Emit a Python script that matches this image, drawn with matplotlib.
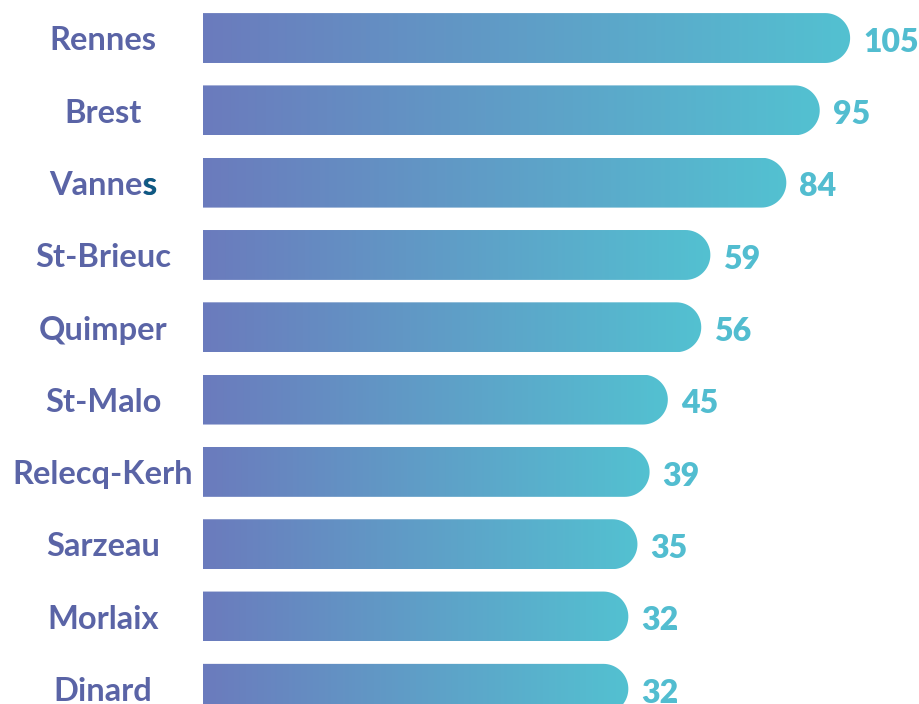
import numpy as np
import matplotlib
matplotlib.use("Agg")
import matplotlib.pyplot as plt
from matplotlib.colors import LinearSegmentedColormap
from matplotlib.path import Path
from matplotlib.patches import PathPatch

cities = ["Rennes", "Brest", "Vannes", "St-Brieuc", "Quimper",
          "St-Malo", "Relecq-Kerh", "Sarzeau", "Morlaix", "Dinard"]
values = [105, 95, 84, 59, 56, 45, 39, 35, 32, 32]

label_col = "#5a64a6"
value_col = "#52bdd0"
grad = LinearSegmentedColormap.from_list("bar", ["#6b7bbd", "#53c1d1"])

plt.rcParams['font.family'] = ['Lato', 'DejaVu Sans']

fig = plt.figure(figsize=(9.2, 7.04), dpi=100)
ax = fig.add_axes([203 / 920, 0, 1 - 203 / 920, 1])

base = -108      # bars start here (the chart uses an offset baseline)
xmax = 128
h = 0.69
ax.set_xlim(base, xmax)
ax.set_ylim(9.21, -0.526)
ax.axis("off")

# px per data unit, to get a round right end
px_x = (920 - 203) / (xmax - base)
px_y = 704 / (9.21 + 0.526)
r_y = h / 2
r_x = r_y * px_y / px_x

t = np.linspace(-np.pi / 2, np.pi / 2, 40)
for i, v in enumerate(values):
    x0 = base - 5
    xe = v - r_x
    arc_x = xe + r_x * np.cos(t)
    verts = [(x0, i - r_y)] + list(zip(arc_x, i + r_y * np.sin(t))) + [(x0, i + r_y), (x0, i - r_y)]
    patch = PathPatch(Path(verts, closed=True), facecolor="none", edgecolor="none")
    ax.add_patch(patch)
    im = ax.imshow(np.linspace(0, 1, 256).reshape(1, -1), cmap=grad,
                   extent=(base, v, i + r_y, i - r_y), aspect="auto",
                   interpolation="bilinear")
    im.set_clip_path(patch)

    ax.text(v + 13 / px_x, i + 0.19, str(v), ha="left", va="baseline",
            fontsize=23, fontweight="heavy", color=value_col)

ax.set_xlim(base, xmax)
ax.set_ylim(9.21, -0.526)

lab_x = base - 100 / px_x
labels = []
for i, c in enumerate(cities):
    tx = ax.text(lab_x, i + 0.17, c, ha="center", va="baseline",
                 fontsize=23.5, fontweight="bold", color=label_col, clip_on=False)
    labels.append(tx)

# the last "s" of Vannes is darker in the original
fig.canvas.draw()
bb = labels[2].get_window_extent()
x1 = ax.transData.inverted().transform((bb.x1, bb.y0))[0]
ax.text(x1, 2 + 0.17, "s", ha="right", va="baseline", fontsize=23.5,
        fontweight="bold", color="#0e5a82", clip_on=False)

fig.savefig("out.png", dpi=100)
